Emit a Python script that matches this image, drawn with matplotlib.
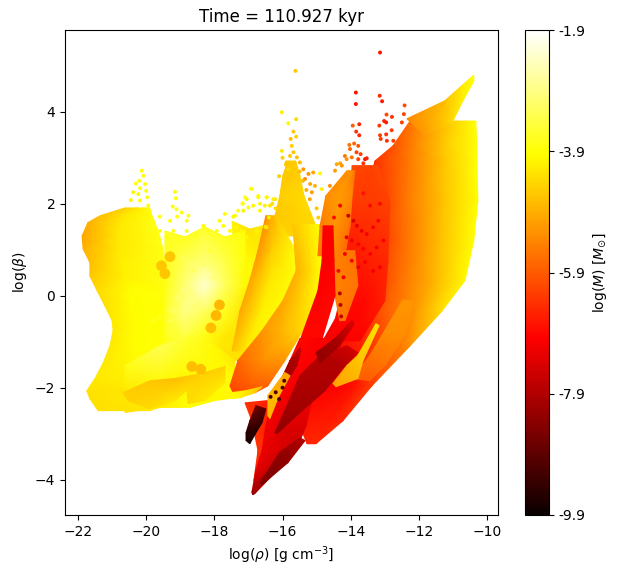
import numpy as np
import matplotlib
matplotlib.use("Agg")
import matplotlib.pyplot as plt
from matplotlib.colors import Normalize

# Solid lobes of the cloud (log rho, log beta, log M)
left_x = [[-20.62, -20.24, -19.89], [-21.35, -20.62, -19.83], [-21.71, -20.77, -19.74], [-21.88, -20.83, -19.60],
          [-21.85, -20.83, -19.51], [-21.65, -20.71, -19.45], [-21.65, -20.62, -19.39], [-21.44, -20.47, -19.36],
          [-21.21, -20.42, -19.36], [-21.00, -20.33, -19.36], [-20.97, -20.33, -19.30], [-21.06, -20.33, -19.15],
          [-21.27, -20.33, -18.86], [-21.50, -20.42, -18.72], [-21.74, -20.47, -18.72], [-21.65, -20.53, -18.86],
          [-21.41, -20.77, -19.89]]
left_y = [1.91, 1.74, 1.59, 1.30, 1.02, 0.72, 0.43, 0.11, -0.22, -0.54, -0.76, -1.09, -1.48, -1.80, -2.07, -2.24, -2.50]
left_c = [[-4.5, -4.2, -3.9], [-4.7, -4.2, -3.9], [-4.9, -4.2, -3.8], [-5.0, -4.2, -3.8], [-4.9, -4.2, -3.8],
          [-4.7, -4.1, -3.8], [-4.6, -4.1, -3.8], [-4.4, -3.95, -3.85], [-4.3, -3.95, -3.9], [-4.2, -3.95, -3.9],
          [-4.2, -3.95, -3.9], [-4.2, -3.95, -3.9], [-4.2, -4.0, -3.9], [-4.2, -4.1, -4.0], [-4.3, -4.2, -4.0],
          [-4.3, -4.2, -4.0], [-4.3, -4.3, -4.2]]

centre_x = [[-19.45, -18.86, -18.28, -17.69, -17.10]] * 6
centre_y = [[1.41, 1.28, 1.50, 1.28, 1.41], [0.76] * 5, [0.22] * 5, [-0.33] * 5, [-0.87] * 5, [-1.41] * 5]
centre_c = [[-3.7, -3.7, -3.6, -3.7, -3.9], [-3.7, -3.3, -3.0, -3.4, -3.9], [-3.8, -3.0, -2.3, -3.2, -4.0],
            [-3.6, -2.9, -3.2, -3.7, -4.3], [-3.7, -3.4, -3.8, -4.2, -4.3], [-3.9, -4.0, -4.2, -4.3, -4.3]]

side_x = [[-17.48, -16.96, -16.43], [-17.40, -16.90, -16.60], [-17.25, -17.01, -16.81], [-17.40, -17.25, -17.10]]
side_y = [[1.62, 1.45, 1.55], [0.54] * 3, [-0.54] * 3, [-1.09] * 3]
side_c = [[-4.1, -4.3, -4.1], [-4.1, -3.9, -4.3], [-4.3, -4.1, -4.0], [-4.3, -4.3, -4.3]]

base_x = [[-20.62] * 3, [-19.60] * 3, [-18.72] * 3, [-17.98] * 3, [-17.40] * 3]
base_y = [[-1.52, -2.07, -2.54], [-1.09, -1.96, -2.43], [-0.87, -1.74, -2.43], [-1.09, -1.74, -2.28],
          [-1.41, -1.85, -2.22]]
base_c = [[-3.8, -4.2, -4.3], [-3.3, -4.0, -4.2], [-3.6, -4.0, -3.9], [-4.0, -4.0, -4.0], [-4.2, -3.9, -4.0]]

finger_a_x = [[-20.68, -20.53], [-19.89, -19.89], [-19.15, -19.15], [-18.42, -18.42]]
finger_a_y = [[-2.11, -2.28], [-1.85, -2.46], [-1.80, -2.28], [-1.70, -1.80]]
finger_a_c = [[-4.5, -4.5], [-4.6, -4.4], [-4.7, -4.2], [-4.5, -4.5]]

finger_b_x = [[-18.80, -18.77], [-18.28, -18.28], [-17.69, -17.69]]
finger_b_y = [[-2.07, -2.35], [-1.67, -2.28], [-1.54, -1.89]]
finger_b_c = [[-4.4, -4.4], [-4.5, -4.2], [-4.5, -4.2]]

inner_x = [[-16.49, -16.37, -16.19], [-16.72, -16.31, -15.61], [-16.96, -16.37, -15.55], [-17.25, -16.60, -15.87],
           [-17.48, -17.10, -16.60]]
inner_y = [1.74, 0.98, 0.33, -0.33, -1.20]
inner_c = [[-5.3, -5.0, -4.6], [-5.2, -4.5, -3.9], [-5.0, -4.2, -3.9], [-5.0, -4.1, -3.9], [-4.7, -4.2, -3.9]]

outer_x = [[-15.70, -15.20, -14.84], [-15.60, -15.14, -14.84], [-15.99, -15.49, -14.96], [-16.60, -15.99, -15.40],
           [-17.31, -16.60, -15.93], [-17.54, -16.96, -16.43], [-17.45, -17.10, -16.81]]
outer_y = [1.55, 0.54, -0.11, -0.76, -1.41, -1.96, -2.11]
outer_c = [[-4.6, -4.2, -3.9], [-4.9, -4.3, -3.9], [-5.0, -4.5, -4.0], [-5.2, -4.8, -4.4], [-5.8, -5.3, -5.2],
           [-6.1, -5.9, -5.8], [-6.2, -6.0, -6.0]]

tail_x = [[-17.54, -17.48], [-17.10, -17.25], [-16.60, -16.81]]
tail_y = [[-2.11, -2.24], [-2.07, -2.22], [-1.98, -2.11]]
tail_c = [[-4.0, -3.9], [-4.2, -4.0], [-4.8, -4.5]]

spike_x = [[-15.84, -15.61], [-15.99, -15.49], [-16.08, -15.37], [-16.22, -15.14], [-16.31, -14.90]]
spike_y = [2.93, 2.61, 2.17, 1.74, 1.30]
spike_c = [[-4.6, -4.5], [-4.6, -4.5], [-4.5, -4.4], [-4.6, -4.4], [-4.5, -4.4]]

main_x = [[-12.26, -11.68, -11.03, -10.33], [-12.76, -12.12, -11.18, -10.30], [-13.29, -12.26, -11.24, -10.30],
          [-13.58, -12.41, -11.24, -10.27], [-13.73, -12.56, -11.38, -10.39], [-14.17, -12.70, -11.53, -10.65],
          [-14.32, -13.14, -12.12, -11.32], [-14.90, -13.73, -12.85, -12.26], [-15.34, -14.46, -13.88, -13.38],
          [-15.55, -15.05, -14.61, -14.23], [-15.28, -15.20, -15.11, -15.02]]
main_y = [3.80, 3.26, 2.93, 2.07, 1.20, 0.33, -0.33, -1.09, -1.96, -2.72, -3.22]
main_c = [[-5.6, -5.1, -4.5, -3.9], [-6.0, -5.4, -4.5, -3.9], [-6.4, -5.5, -4.6, -3.9], [-6.7, -5.6, -4.6, -3.95],
          [-6.8, -5.8, -4.7, -3.95], [-6.9, -5.8, -4.8, -4.0], [-7.0, -6.0, -5.2, -4.3], [-7.1, -6.6, -5.9, -5.2],
          [-7.0, -7.0, -6.8, -6.2], [-6.8, -6.7, -6.7, -6.5], [-6.5, -6.5, -6.5, -6.5]]

tip_x = [[-12.35, -11.82], [-11.24, -11.03], [-10.74, -10.71], [-10.39, -10.39]]
tip_y = [[3.85, 3.48], [4.24, 3.76], [4.57, 4.24], [4.80, 4.67]]
tip_c = [[-5.4, -5.1], [-4.7, -4.4], [-4.2, -4.1], [-3.9, -3.9]]

red_lobe_x = [[-13.96, -13.44, -13.20], [-14.02, -13.44, -12.85], [-14.17, -13.44, -12.91], [-14.32, -13.58, -13.00],
              [-14.61, -14.17, -13.73]]
red_lobe_y = [2.83, 2.07, 0.76, -0.11, -0.98]
red_lobe_c = [[-6.1, -6.2, -6.1], [-6.3, -6.3, -6.2], [-6.8, -6.6, -6.5], [-6.9, -6.9, -6.6], [-7.0, -7.0, -7.0]]

orange_lobe_x = [[-14.11, -13.96, -13.88], [-14.73, -14.32, -13.96], [-14.90, -14.46, -14.02], [-14.96, -14.46, -14.17]]
orange_lobe_y = [2.72, 2.17, 1.52, 0.87]
orange_lobe_c = [[-5.3, -5.3, -5.6], [-5.3, -5.1, -5.4], [-5.5, -5.2, -5.6], [-5.6, -5.4, -5.8]]

patch_x = [[-14.61, -13.88], [-14.52, -13.79], [-14.32, -14.17]]
patch_y = [0.98, 0.22, -0.54]
patch_c = [[-5.4, -5.6], [-5.4, -5.6], [-5.6, -5.6]]

red_strip_x = [[-14.81, -14.52], [-14.84, -14.49], [-14.96, -14.46], [-15.49, -14.90], [-16.02, -15.64]]
red_strip_y = [[1.52, 1.52], [0.76, 0.76], [0.11, 0.0], [-0.98, -1.09], [-1.85, -1.96]]
red_strip_c = [[-7.0, -7.0], [-7.0, -7.0], [-7.0, -6.9], [-6.9, -6.9], [-6.6, -6.6]]

edge_x = [[-17.10, -16.43], [-16.90, -16.43], [-16.72, -16.55], [-16.84, -16.75]]
edge_y = [[-2.33, -2.28], [-2.72, -2.83], [-3.37, -3.41], [-4.02, -4.09]]
edge_c = [[-6.4, -6.6], [-6.4, -6.6], [-6.4, -6.4], [-6.6, -6.6]]

deep_x = [[-16.90, -16.87, -16.81], [-16.78, -16.50, -16.16], [-16.60, -16.15, -15.61], [-16.49, -15.95, -15.31],
          [-16.31, -15.75, -15.14], [-15.78, -15.28, -14.76], [-15.49, -14.96, -14.46]]
deep_y = [[-4.28, -4.33, -4.30], [-3.80] * 3, [-3.37] * 3, [-2.83] * 3, [-2.28] * 3, [-1.41] * 3, [-0.93] * 3]
deep_c = [[-8.2, -8.2, -8.2], [-7.3, -7.5, -7.8], [-7.2, -7.4, -7.7], [-7.1, -7.4, -7.4], [-7.0, -7.2, -7.2],
          [-6.9, -7.0, -7.0], [-6.9, -7.0, -7.0]]

black_x = [[-17.07, -16.96], [-17.07, -16.81], [-16.96, -16.60], [-16.78, -16.49]]
black_y = [[-3.15, -3.22], [-2.98, -3.02], [-2.72, -2.76], [-2.39, -2.46]]
black_c = [[-9.6, -9.7], [-9.5, -9.6], [-9.0, -9.4], [-8.6, -9.1]]

lens_x = [[-16.22, -16.16], [-15.93, -15.49], [-15.49, -14.76], [-14.90, -14.17], [-14.11, -13.79]]
lens_y = [[-2.98, -3.00], [-2.50, -2.54], [-1.74, -2.07], [-1.30, -1.52], [-1.09, -1.24]]
lens_c = [[-8.3, -8.3], [-8.1, -8.1], [-7.9, -8.0], [-7.9, -7.9], [-7.5, -7.5]]

band_x = [[-15.02, -14.90], [-14.46, -14.32], [-13.96, -13.90]]
band_y = [[-1.24, -1.46], [-0.93, -1.09], [-0.54, -0.61]]
band_c = [[-8.3, -8.3], [-8.0, -8.0], [-7.4, -7.4]]

low_band_x = [[-16.66, -16.60], [-16.08, -15.84], [-15.49, -15.34]]
low_band_y = [[-4.07, -4.11], [-3.41, -3.63], [-3.09, -3.15]]
low_band_c = [[-8.5, -8.5], [-8.3, -8.3], [-7.9, -7.9]]

up_band_x = [[-16.13, -15.99], [-15.78, -15.58], [-15.49, -15.46]]
up_band_y = [[-1.96, -2.02], [-1.41, -1.52], [-1.13, -1.20]]
up_band_c = [[-8.0, -8.0], [-8.0, -8.0], [-7.6, -7.6]]

orange_strip_x = [[-12.47, -12.15], [-13.00, -12.41], [-13.44, -13.00], [-13.96, -13.44]]
orange_strip_y = [[-0.09, -0.13], [-0.76, -0.87], [-1.30, -1.52], [-1.80, -1.85]]
orange_strip_c = [[-5.2, -5.2], [-5.3, -5.3], [-5.6, -5.6], [-5.9, -5.9]]

gold_strip_x = [[-13.26, -13.17], [-13.79, -13.64], [-14.11, -13.79], [-14.52, -14.43]]
gold_strip_y = [[-0.61, -0.65], [-1.30, -1.41], [-1.52, -1.80], [-1.91, -1.98]]
gold_strip_c = [[-4.3, -4.3], [-4.6, -4.6], [-4.8, -4.8], [-5.0, -5.0]]

gold_thin_x = [[-16.43, -16.37], [-16.43, -16.13], [-15.93, -15.78]]
gold_thin_y = [[-2.61, -2.67], [-2.17, -2.22], [-1.67, -1.74]]
gold_thin_c = [[-4.8, -4.8], [-4.8, -4.8], [-5.0, -5.0]]

# Clumps too large for a single dot
clump_x = [-19.45, -19.55, -19.30, -17.95, -17.85, -18.10, -18.66, -18.40]
clump_y = [0.48, 0.65, 0.85, -0.43, -0.20, -0.70, -1.54, -1.60]
clump_c = [-4.6, -4.6, -4.6, -4.8, -4.8, -4.7, -4.7, -4.7]

# Separate particles
red_x = [-13.14, -13.85, -13.85, -13.15, -13.08, -12.42, -12.44, -12.95, -12.79, -13.02, -12.96, -13.75, -13.94,
         -12.50, -13.16, -13.84, -13.75, -13.14, -12.80, -12.96, -13.12, -12.94, -12.75, -13.90, -14.04, -14.02,
         -13.78, -13.83, -13.71, -13.58, -13.97, -13.78, -13.53, -14.17, -14.12, -14.26, -14.41, -14.31, -14.46,
         -13.63, -14.61, -13.63, -14.31, -14.49, -13.43, -13.14]
red_y = [5.29, 4.42, 4.17, 4.35, 4.23, 4.14, 3.95, 3.94, 3.89, 3.80, 3.77, 3.73, 3.70, 3.77, 3.70, 3.57, 3.49, 3.49,
         3.60, 3.51, 3.41, 3.37, 3.37, 3.31, 3.28, 3.19, 3.26, 3.12, 3.08, 2.97, 3.01, 2.97, 2.99, 3.04, 2.97, 2.83,
         2.86, 2.88, 2.72, 2.88, 2.39, 2.23, 1.96, 1.70, 1.96, 2.00]
red_c = [-6.8, -6.8, -6.8, -6.5, -6.7, -6.1, -6.2, -6.1, -6.4, -6.6, -6.7, -6.5, -5.9, -6.2, -6.3, -6.4, -6.5, -6.3,
         -6.3, -6.4, -6.3, -6.4, -6.3, -5.8, -5.6, -5.8, -6.0, -6.2, -6.2, -6.8, -5.6, -6.2, -6.6, -5.5, -5.2, -5.2,
         -5.0, -5.0, -5.1, -6.4, -5.2, -6.8, -7.0, -6.9, -6.9, -6.9]

dark_x = [-14.07, -13.92, -13.82, -13.68, -13.53, -13.34, -13.19, -14.12, -13.97, -13.78, -13.63, -13.43, -13.24,
          -13.04, -14.17, -13.97, -13.78, -13.58, -13.34, -13.14, -14.36, -14.21, -14.32, -14.30, -14.28]
dark_y = [1.74, 1.63, 1.52, 1.41, 1.34, 1.49, 1.63, 1.27, 1.20, 1.12, 1.02, 0.91, 1.05, 1.20, 0.91, 0.76, 0.62, 0.73,
          0.54, 0.62, 0.54, 0.40, 0.05, -0.20, -0.45]
dark_c = [-7.6, -7.4, -7.2, -7.2, -7.1, -7.0, -7.0, -7.2, -7.1, -7.0, -7.0, -7.0, -7.1, -7.0, -7.1, -7.0, -7.2, -7.0,
          -7.1, -7.0, -7.0, -7.2, -7.8, -7.8, -7.8]

black_dot_x = [-16.35, -16.20, -16.00, -15.95, -16.10]
black_dot_y = [-2.20, -2.10, -2.00, -1.85, -2.25]
black_dot_c = [-9.2, -9.1, -9.0, -9.0, -9.1]

gold_x = [-15.62, -16.02, -15.60, -15.83, -15.68, -15.76, -15.60, -16.02, -15.73, -15.68, -15.58, -15.78, -15.88,
          -15.49, -15.39, -15.83, -15.10, -15.24, -14.90, -15.05, -15.19, -15.34, -14.85, -15.14, -16.30, -16.20,
          -16.10, -15.40, -15.30, -15.20, -15.00, -14.95, -16.00, -15.90, -15.50, -16.40, -16.50]
gold_y = [4.89, 3.99, 3.84, 3.75, 3.57, 3.41, 3.46, 3.15, 3.26, 3.12, 3.01, 3.04, 2.90, 2.90, 2.75, 2.75, 2.68, 2.65,
          2.66, 2.39, 2.43, 2.54, 2.32, 2.25, 2.00, 1.90, 2.60, 2.50, 2.30, 2.10, 1.90, 1.70, 3.00, 2.85, 2.70, 1.70,
          1.50]
gold_c = [-4.6, -4.1, -4.4, -4.0, -4.6, -4.7, -4.5, -4.2, -4.5, -4.6, -4.7, -4.6, -4.6, -4.8, -5.1, -4.4, -5.0, -5.2,
          -4.0, -4.8, -5.0, -5.3, -4.1, -5.1, -4.3, -4.4, -4.5, -4.8, -4.9, -5.0, -4.6, -4.5, -4.5, -4.6, -4.7, -4.2,
          -4.3]

yellow_x = [-16.93, -17.10, -16.71, -16.46, -16.22, -17.17, -17.30, -17.39, -17.00, -16.66, -16.37, -20.13, -20.08,
            -20.20, -20.30, -20.03, -20.18, -20.38, -20.23, -20.00, -19.97, -20.45, -20.18, -19.94, -19.155, -19.13,
            -19.22, -19.11, -18.96, -18.76, -19.09, -18.81, -19.60, -19.30, -17.69, -17.44, -17.85, -17.15, -16.90,
            -17.05, -16.71, -16.47, -16.27, -16.66, -17.17, -16.86, -16.52, -19.60, -19.40, -19.20, -19.01, -18.81,
            -18.57, -18.32, -18.18, -17.93, -17.74, -17.54, -17.35, -17.20, -17.05, -16.76, -16.47]
yellow_y = [2.33, 2.14, 2.17, 2.14, 2.10, 2.00, 1.85, 1.74, 1.92, 2.00, 1.96, 2.72, 2.61, 2.50, 2.44, 2.43, 2.34, 2.25,
            2.21, 2.28, 2.14, 2.08, 2.07, 1.96, 2.26, 2.12, 1.94, 1.88, 1.81, 1.74, 1.72, 1.63, 1.72, 1.63, 1.78, 1.72,
            1.63, 1.85, 2.32, 2.10, 2.14, 2.14, 2.10, 1.85, 2.01, 1.96, 1.96, 1.41, 1.27, 1.41, 1.27, 1.41, 1.34, 1.52,
            1.41, 1.41, 1.52, 1.41, 1.49, 1.41, 1.27, 1.41, 1.49]
yellow_c = [-3.7, -3.8, -3.9, -4.1, -4.2, -3.8, -3.8, -3.9, -3.9, -4.0, -4.2, -3.9, -3.9, -3.9, -3.9, -3.9, -3.9, -4.0,
            -4.0, -3.9, -3.9, -4.0, -3.9, -3.9, -3.9, -3.9, -3.8, -3.8, -3.8, -3.8, -3.8, -3.8, -3.9, -3.8, -3.9, -4.0,
            -3.9, -4.1, -3.9, -4.0, -4.0, -4.0, -4.1, -4.0, -3.9, -4.0, -4.1, -3.9, -3.8, -3.8, -3.7, -3.8, -3.7, -3.9,
            -3.8, -3.8, -3.9, -3.9, -4.0, -4.0, -4.0, -4.1, -4.2]

pale_x = [-18.91, -18.67, -19.11, -18.81, -19.20, -18.96, -18.62, -19.30, -19.60, -19.79, -18.32, -18.62, -18.91,
          -18.13, -18.03, -18.71]
pale_y = [0.11, 0.22, -0.04, -0.18, -0.33, -0.47, -0.22, -0.54, -0.47, -0.54, 0.69, 0.54, 0.83, 0.98, 0.40, 0.73]
pale_c = [-2.9, -2.9, -3.0, -2.9, -3.1, -3.0, -3.0, -3.2, -3.6, -3.7, -3.2, -3.2, -3.2, -3.5, -3.0, -3.2]

cbar_ticks = [-1.9, -3.9, -5.9, -7.9, -9.9]

lobes = [
    (left_x, left_y, left_c), (side_x, side_y, side_c), (centre_x, centre_y, centre_c), (base_x, base_y, base_c),
    (finger_a_x, finger_a_y, finger_a_c), (finger_b_x, finger_b_y, finger_b_c),
    (spike_x, spike_y, spike_c), (main_x, main_y, main_c), (tip_x, tip_y, tip_c), (inner_x, inner_y, inner_c),
    (outer_x, outer_y, outer_c), (tail_x, tail_y, tail_c), (red_lobe_x, red_lobe_y, red_lobe_c),
    (orange_lobe_x, orange_lobe_y, orange_lobe_c), (patch_x, patch_y, patch_c), (red_strip_x, red_strip_y, red_strip_c),
    (edge_x, edge_y, edge_c), (deep_x, deep_y, deep_c), (black_x, black_y, black_c), (lens_x, lens_y, lens_c),
    (band_x, band_y, band_c), (low_band_x, low_band_y, low_band_c), (up_band_x, up_band_y, up_band_c),
    (orange_strip_x, orange_strip_y, orange_strip_c), (gold_strip_x, gold_strip_y, gold_strip_c),
    (gold_thin_x, gold_thin_y, gold_thin_c),
]

norm = Normalize(vmin=-9.9, vmax=-1.9)


def draw_lobe(ax, x, y, c):
    """Shade one lobe from its rows of read values"""
    x = np.array(x)
    y = np.array(y)
    if y.ndim == 1:
        y = np.tile(y[:, None], (1, x.shape[1]))
    ax.pcolormesh(x, y, np.array(c), cmap='hot', norm=norm, shading='gouraud')


fig = plt.figure(figsize=(6.19, 5.76), dpi=100)
ax = fig.add_axes([65 / 619, 61 / 576, 433 / 619, 485 / 576])

for lobe_x, lobe_y, lobe_c in lobes:
    draw_lobe(ax, lobe_x, lobe_y, lobe_c)

ax.scatter(clump_x, clump_y, c=clump_c, s=60, cmap='hot', norm=norm, linewidths=0, zorder=1.5)
for dot_x, dot_y, dot_c in [(yellow_x, yellow_y, yellow_c), (pale_x, pale_y, pale_c), (gold_x, gold_y, gold_c),
                            (red_x, red_y, red_c), (dark_x, dark_y, dark_c), (black_dot_x, black_dot_y, black_dot_c)]:
    sc = ax.scatter(dot_x, dot_y, c=dot_c, s=8, cmap='hot', norm=norm, linewidths=0, zorder=2)

ax.set_xlim(-22.38, -9.68)
ax.set_ylim(-4.77, 5.78)
ax.set_xticks([-22, -20, -18, -16, -14, -12, -10])
ax.set_yticks([-4, -2, 0, 2, 4])
ax.set_xlabel(r'log($\rho$) [g cm$^{-3}$]')
ax.set_ylabel(r'log($\beta$)')
ax.set_title('Time = 110.927 kyr')

cax = fig.add_axes([525 / 619, 61 / 576, 24 / 619, 485 / 576])
cb = fig.colorbar(sc, cax=cax, ticks=cbar_ticks)
cb.ax.set_yticklabels(['%.1f' % t for t in cbar_ticks])
cb.set_label(r'log($M$) [$M_{\odot}$]')

fig.savefig('out.png', dpi=100)
